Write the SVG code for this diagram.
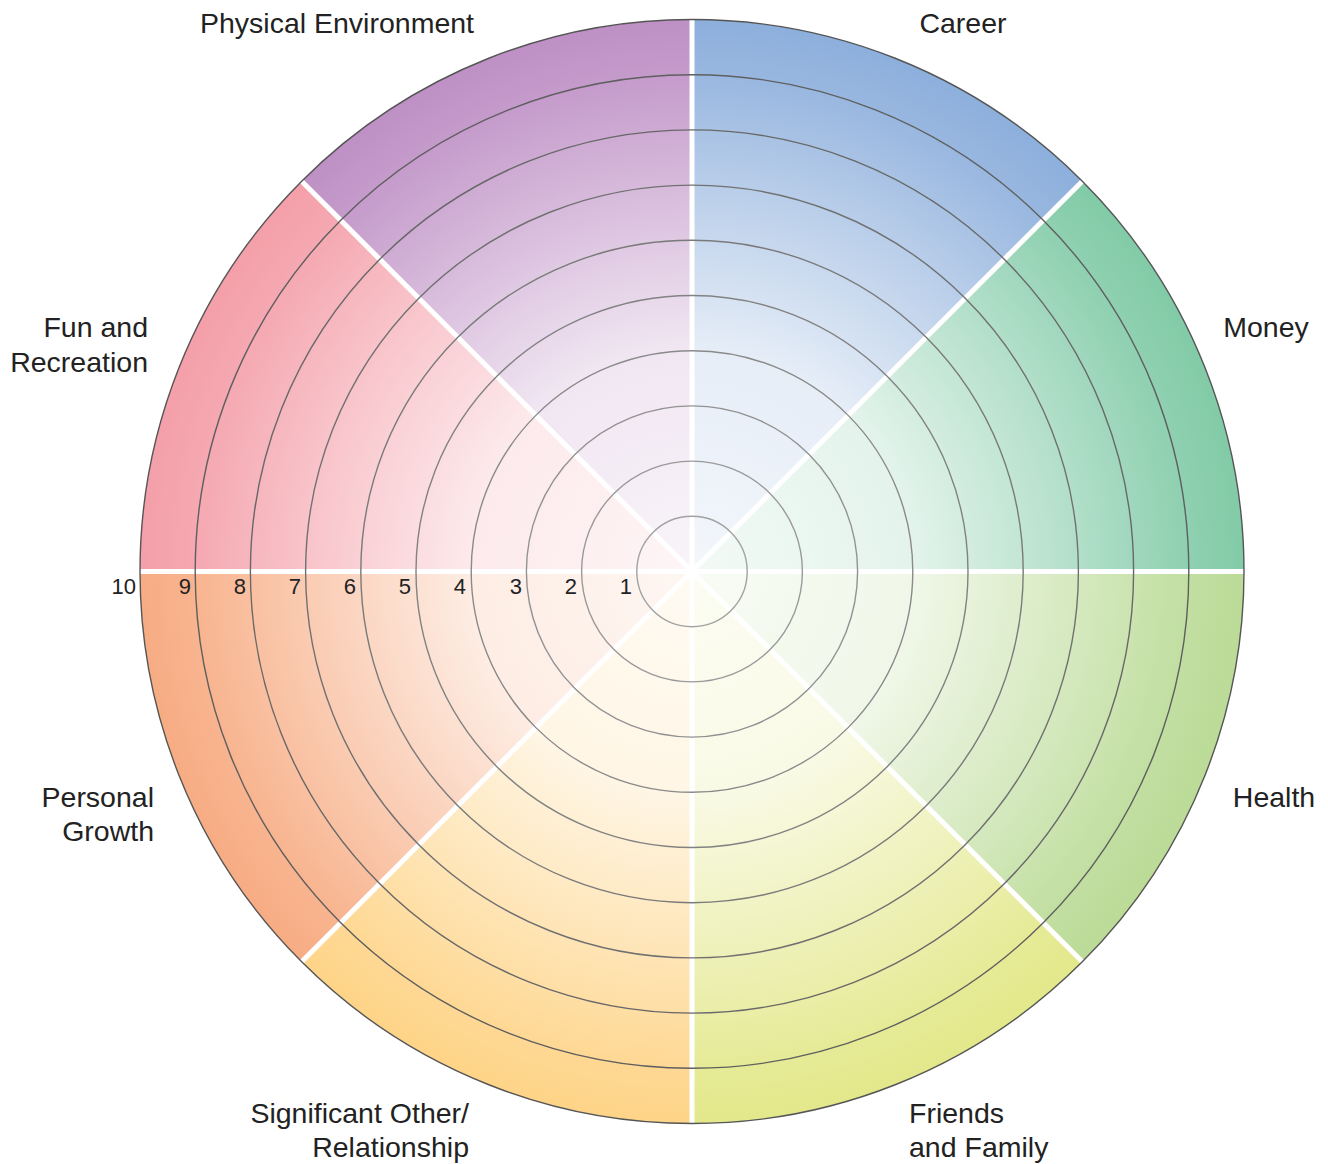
<svg xmlns="http://www.w3.org/2000/svg" width="1328" height="1164" viewBox="0 0 1328 1164">
<style>
.lbl{font-family:"Liberation Sans",Arial,sans-serif;font-size:28.5px;fill:#222}
.num{font-family:"Liberation Sans",Arial,sans-serif;font-size:22px;fill:#222;text-anchor:end}
.ring{fill:none;stroke-width:1.4}
.div{stroke:#fff;stroke-width:5;fill:none}
.s0{stop-opacity:0.1}.s1{stop-opacity:0.22}.s2{stop-opacity:0.55}.s3{stop-opacity:0.9}.s4{stop-opacity:1}
</style>
<defs>
<radialGradient id="gCareer" gradientUnits="userSpaceOnUse" cx="692" cy="571.5" r="552"><stop offset="0" class="s0" stop-color="#8dafdc"/><stop offset="0.4" class="s1" stop-color="#8dafdc"/><stop offset="0.65" class="s2" stop-color="#8dafdc"/><stop offset="0.9" class="s3" stop-color="#8dafdc"/><stop offset="1" class="s4" stop-color="#8dafdc"/></radialGradient>
<radialGradient id="gMoney" gradientUnits="userSpaceOnUse" cx="692" cy="571.5" r="552"><stop offset="0" class="s0" stop-color="#82cba7"/><stop offset="0.4" class="s1" stop-color="#82cba7"/><stop offset="0.65" class="s2" stop-color="#82cba7"/><stop offset="0.9" class="s3" stop-color="#82cba7"/><stop offset="1" class="s4" stop-color="#82cba7"/></radialGradient>
<radialGradient id="gHealth" gradientUnits="userSpaceOnUse" cx="692" cy="571.5" r="552"><stop offset="0" class="s0" stop-color="#bbdb97"/><stop offset="0.4" class="s1" stop-color="#bbdb97"/><stop offset="0.65" class="s2" stop-color="#bbdb97"/><stop offset="0.9" class="s3" stop-color="#bbdb97"/><stop offset="1" class="s4" stop-color="#bbdb97"/></radialGradient>
<radialGradient id="gFriends" gradientUnits="userSpaceOnUse" cx="692" cy="571.5" r="552"><stop offset="0" class="s0" stop-color="#e3e88b"/><stop offset="0.4" class="s1" stop-color="#e3e88b"/><stop offset="0.65" class="s2" stop-color="#e3e88b"/><stop offset="0.9" class="s3" stop-color="#e3e88b"/><stop offset="1" class="s4" stop-color="#e3e88b"/></radialGradient>
<radialGradient id="gSig" gradientUnits="userSpaceOnUse" cx="692" cy="571.5" r="552"><stop offset="0" class="s0" stop-color="#fed488"/><stop offset="0.4" class="s1" stop-color="#fed488"/><stop offset="0.65" class="s2" stop-color="#fed488"/><stop offset="0.9" class="s3" stop-color="#fed488"/><stop offset="1" class="s4" stop-color="#fed488"/></radialGradient>
<radialGradient id="gPersonal" gradientUnits="userSpaceOnUse" cx="692" cy="571.5" r="552"><stop offset="0" class="s0" stop-color="#f7ac83"/><stop offset="0.4" class="s1" stop-color="#f7ac83"/><stop offset="0.65" class="s2" stop-color="#f7ac83"/><stop offset="0.9" class="s3" stop-color="#f7ac83"/><stop offset="1" class="s4" stop-color="#f7ac83"/></radialGradient>
<radialGradient id="gFun" gradientUnits="userSpaceOnUse" cx="692" cy="571.5" r="552"><stop offset="0" class="s0" stop-color="#f49fa9"/><stop offset="0.4" class="s1" stop-color="#f49fa9"/><stop offset="0.65" class="s2" stop-color="#f49fa9"/><stop offset="0.9" class="s3" stop-color="#f49fa9"/><stop offset="1" class="s4" stop-color="#f49fa9"/></radialGradient>
<radialGradient id="gPhys" gradientUnits="userSpaceOnUse" cx="692" cy="571.5" r="552"><stop offset="0" class="s0" stop-color="#be90c5"/><stop offset="0.4" class="s1" stop-color="#be90c5"/><stop offset="0.65" class="s2" stop-color="#be90c5"/><stop offset="0.9" class="s3" stop-color="#be90c5"/><stop offset="1" class="s4" stop-color="#be90c5"/></radialGradient>
</defs>
<rect width="1328" height="1164" fill="#fff"/>
<g id="sector-career"><path d="M692 571.5 L692 19.5 A552 552 0 0 1 1082.32 181.18 Z" fill="url(#gCareer)"/></g>
<g id="sector-money"><path d="M692 571.5 L1082.32 181.18 A552 552 0 0 1 1244 571.5 Z" fill="url(#gMoney)"/></g>
<g id="sector-health"><path d="M692 571.5 L1244 571.5 A552 552 0 0 1 1082.32 961.82 Z" fill="url(#gHealth)"/></g>
<g id="sector-friends"><path d="M692 571.5 L1082.32 961.82 A552 552 0 0 1 692 1123.5 Z" fill="url(#gFriends)"/></g>
<g id="sector-significant"><path d="M692 571.5 L692 1123.5 A552 552 0 0 1 301.68 961.82 Z" fill="url(#gSig)"/></g>
<g id="sector-personal"><path d="M692 571.5 L301.68 961.82 A552 552 0 0 1 140 571.5 Z" fill="url(#gPersonal)"/></g>
<g id="sector-fun"><path d="M692 571.5 L140 571.5 A552 552 0 0 1 301.68 181.18 Z" fill="url(#gFun)"/></g>
<g id="sector-physical"><path d="M692 571.5 L301.68 181.18 A552 552 0 0 1 692 19.5 Z" fill="url(#gPhys)"/></g>
<g id="dividers">
<line class="div" x1="692" y1="19.5" x2="692" y2="1123.5"/>
<line class="div" x1="140" y1="571.5" x2="1244" y2="571.5"/>
<line class="div" x1="301.68" y1="181.18" x2="1082.32" y2="961.82"/>
<line class="div" x1="1082.32" y1="181.18" x2="301.68" y2="961.82"/>
</g>
<g id="rings">
<circle class="ring" cx="692" cy="571.5" r="55.2" stroke="#a2a2a2"/>
<circle class="ring" cx="692" cy="571.5" r="110.4" stroke="#9a9a9a"/>
<circle class="ring" cx="692" cy="571.5" r="165.6" stroke="#929292"/>
<circle class="ring" cx="692" cy="571.5" r="220.8" stroke="#8a8a8a"/>
<circle class="ring" cx="692" cy="571.5" r="276" stroke="#828282"/>
<circle class="ring" cx="692" cy="571.5" r="331.2" stroke="#7a7a7a"/>
<circle class="ring" cx="692" cy="571.5" r="386.4" stroke="#717171"/>
<circle class="ring" cx="692" cy="571.5" r="441.6" stroke="#686868"/>
<circle class="ring" cx="692" cy="571.5" r="496.8" stroke="#5f5f5f"/>
<circle class="ring" cx="692" cy="571.5" r="552" stroke="#555"/>
</g>
<g id="scale">
<text class="num" x="632" y="594">1</text>
<text class="num" x="577" y="594">2</text>
<text class="num" x="522" y="594">3</text>
<text class="num" x="466" y="594">4</text>
<text class="num" x="411" y="594">5</text>
<text class="num" x="356" y="594">6</text>
<text class="num" x="301" y="594">7</text>
<text class="num" x="246" y="594">8</text>
<text class="num" x="191" y="594">9</text>
<text class="num" x="136" y="594">10</text>
</g>
<g id="labels">
<text class="lbl" x="337" y="33" text-anchor="middle">Physical Environment</text>
<text class="lbl" x="963" y="33" text-anchor="middle">Career</text>
<text class="lbl" x="1266" y="337" text-anchor="middle">Money</text>
<text class="lbl" x="1274" y="807" text-anchor="middle">Health</text>
<text class="lbl" x="148" y="337" text-anchor="end">Fun and</text>
<text class="lbl" x="148" y="372" text-anchor="end">Recreation</text>
<text class="lbl" x="154" y="807" text-anchor="end">Personal</text>
<text class="lbl" x="154" y="841" text-anchor="end">Growth</text>
<text class="lbl" x="469" y="1123" text-anchor="end">Significant Other/</text>
<text class="lbl" x="469" y="1157" text-anchor="end">Relationship</text>
<text class="lbl" x="909" y="1123">Friends</text>
<text class="lbl" x="909" y="1157">and Family</text>
</g>
</svg>
